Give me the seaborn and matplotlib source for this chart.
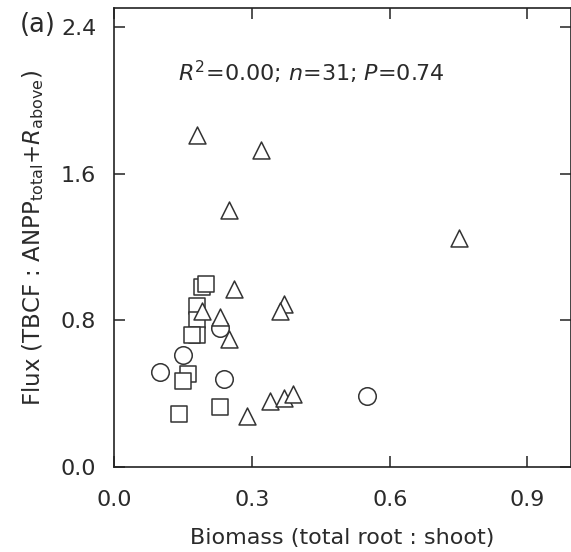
import pandas as pd
import matplotlib
matplotlib.use('Agg')
import matplotlib.pyplot as plt
import seaborn as sns

# Valores (a)
tri_x = [0.18, 0.32, 0.25, 0.75, 0.26, 0.19, 0.23, 0.25, 0.37, 0.36, 0.34, 0.37, 0.39, 0.29]
tri_y = [1.81, 1.73, 1.40, 1.25, 0.97, 0.85, 0.82, 0.70, 0.89, 0.85, 0.36, 0.38, 0.40, 0.28]

sq_x = [0.19, 0.20, 0.18, 0.18, 0.18, 0.17, 0.16, 0.15, 0.14, 0.23]
sq_y = [0.98, 1.00, 0.88, 0.80, 0.72, 0.72, 0.51, 0.47, 0.29, 0.33]

circ_x = [0.10, 0.15, 0.24, 0.23, 0.55]
circ_y = [0.52, 0.61, 0.48, 0.76, 0.39]

x_ticks = [0.0, 0.3, 0.6, 0.9]
y_ticks = [0.0, 0.8, 1.6, 2.4]

df = pd.concat([
    pd.DataFrame({'x': sq_x, 'y': sq_y, 'grupo': 'quadrado'}),
    pd.DataFrame({'x': circ_x, 'y': circ_y, 'grupo': 'circulo'}),
    pd.DataFrame({'x': tri_x, 'y': tri_y, 'grupo': 'triangulo'}),
])

sns.set_style('ticks')
plt.rcParams['font.family'] = ['DejaVu Sans']
plt.rcParams['mathtext.fontset'] = 'dejavusans'

cinza = '#333333'
texto = '#2a2a2a'

fig = plt.figure(figsize=(5.71, 5.52), dpi=100)
ax = fig.add_axes([0.2002, 0.1534, 0.7998, 0.8315])

estilos = {'quadrado': ('s', 117), 'circulo': ('o', 159), 'triangulo': ('^', 149)}
for grupo, (marcador, tamanho) in estilos.items():
    sns.scatterplot(data=df[df['grupo'] == grupo], x='x', y='y', marker=marcador,
                    s=tamanho, facecolor='white', edgecolor=cinza, linewidth=1.1,
                    ax=ax, legend=False, zorder=3)

ax.set_xlim(0, 0.995)
ax.set_ylim(0, 2.5)
ax.set_xticks(x_ticks)
ax.set_yticks(y_ticks)
ax.set_xticklabels([f'{v:.1f}' for v in x_ticks])
ax.set_yticklabels([f'{v:.1f}' for v in y_ticks])
ax.tick_params(direction='in', length=8, width=1.1, top=True, right=True,
               labelsize=16, pad=13, colors='#222222', labelcolor=texto)
ax.tick_params(axis='x', pad=16)
for sp in ax.spines.values():
    sp.set_linewidth(1.2)
    sp.set_color('#222222')

ax.set_xlabel('Biomass (total root : shoot)', fontsize=16, color=texto, labelpad=13.5)
ax.set_ylabel(r'Flux (TBCF : ANPP$_{\rm total}$+$R_{\rm above}$)', fontsize=16.5, color=texto)
ax.yaxis.set_label_coords(-0.150, 0.5)

ax.text(0.14, 0.861, r'$R^{\rm 2}$=0.00; $n$=31; $P$=0.74', transform=ax.transAxes,
        fontsize=16, color=texto, va='center', ha='left')
fig.text(20 / 571, 1 - 25 / 552, '(a)', fontsize=18.5, color=texto, va='center', ha='left')

plt.savefig('out.png', dpi=100)
